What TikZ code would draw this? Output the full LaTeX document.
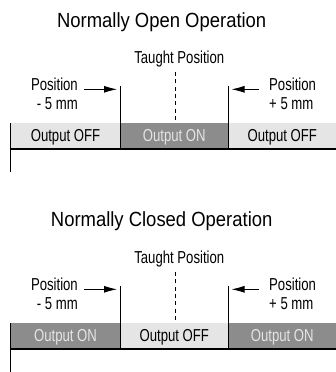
\documentclass[tikz,border=0pt]{standalone}
\usepackage{fontspec}
\setmainfont{Liberation Sans}
\newfontfamily\narrowfont[FakeStretch=0.76]{Liberation Sans}
\newfontfamily\titlefont[FakeStretch=0.9]{Liberation Sans}
\usetikzlibrary{arrows.meta}
\definecolor{barlight}{gray}{0.90}
\definecolor{bardark}{gray}{0.55}
\definecolor{ontext}{gray}{0.90}
\begin{document}
\begin{tikzpicture}[x=1pt,y=-1pt,
  titletext/.style={font=\titlefont\fontsize{20.5}{22}\selectfont, anchor=base, inner sep=0pt},
  lbl/.style={font=\narrowfont\fontsize{17.3}{19}\selectfont, inner sep=0pt},
  thinline/.style={line width=0.9pt, draw=black},
  baseline/.style={line width=1.3pt, draw=black},
  taughtline/.style={line width=0.9pt, dash pattern=on 4pt off 3.3pt},
  arr/.style={line width=0.9pt, -{Latex[length=13pt,width=7pt]}}
]
\useasboundingbox (0,0) rectangle (336,372);

% ---------- Normally Open ----------
\begin{scope}
\node[titletext] (t1) at (161.7,27.5) {Normally Open Operation};
\node[lbl, anchor=base] (tp1) at (179.3,63) {Taught Position};
\fill[barlight] (11,123) rectangle (120,149);
\fill[bardark] (120,123) rectangle (228.5,149);
\fill[barlight] (228.5,123) rectangle (336,149);
\node[lbl, anchor=base] (o1a) at (65.5,141.5) {Output OFF};
\node[lbl, anchor=base, text=ontext] (o1b) at (174.3,141.5) {Output ON};
\node[lbl, anchor=base] (o1c) at (282.3,141.5) {Output OFF};
\node[lbl, anchor=base east] (pl1) at (78,90.7) {Position};
\node[lbl, anchor=base east] (ml1) at (78,109) {- 5 mm};
\node[lbl, anchor=base west] (pr1) at (269,90.7) {Position};
\node[lbl, anchor=base west] (mr1) at (269,109) {+ 5 mm};
\coordinate (d1t) at (175,72) ; \coordinate (d1b) at (175,123);
\coordinate (l1t) at (120,86); \coordinate (l1b) at (120,149);
\coordinate (r1t) at (228.5,86); \coordinate (r1b) at (228.5,149);
\coordinate (a1s) at (84,89.3); \coordinate (a1e) at (117,89.3);
\coordinate (b1s) at (259,89.3); \coordinate (b1e) at (231.5,89.3);
\coordinate (x1t) at (10.7,123); \coordinate (x1b) at (10.7,172);
\coordinate (h1l) at (10.7,149); \coordinate (h1r) at (336,149);
\draw[taughtline] (d1t) -- (d1b);
\draw[thinline] (l1t) -- (l1b);
\draw[thinline] (r1t) -- (r1b);
\draw[arr] (a1s) -- (a1e);
\draw[arr] (b1s) -- (b1e);
\draw[thinline] (x1t) -- (x1b);
\draw[baseline] (h1l) -- (h1r);
\end{scope}

% ---------- Normally Closed ----------
\begin{scope}[shift={(0,200)}]
\node[titletext] (t2) at (161.7,26) {Normally Closed Operation};
\node[lbl, anchor=base] (tp2) at (179.3,63) {Taught Position};
\fill[bardark] (11,123) rectangle (120,149);
\fill[barlight] (120,123) rectangle (228.5,149);
\fill[bardark] (228.5,123) rectangle (336,149);
\node[lbl, anchor=base, text=ontext] (o2a) at (65.5,141.5) {Output ON};
\node[lbl, anchor=base] (o2b) at (174.3,141.5) {Output OFF};
\node[lbl, anchor=base, text=ontext] (o2c) at (282.3,141.5) {Output ON};
\node[lbl, anchor=base east] (pl2) at (78,90.7) {Position};
\node[lbl, anchor=base east] (ml2) at (78,109) {- 5 mm};
\node[lbl, anchor=base west] (pr2) at (269,90.7) {Position};
\node[lbl, anchor=base west] (mr2) at (269,109) {+ 5 mm};
\coordinate (d2t) at (175,72); \coordinate (d2b) at (175,123);
\coordinate (l2t) at (120,86); \coordinate (l2b) at (120,149);
\coordinate (r2t) at (228.5,86); \coordinate (r2b) at (228.5,149);
\coordinate (a2s) at (84,89.3); \coordinate (a2e) at (117,89.3);
\coordinate (b2s) at (259,89.3); \coordinate (b2e) at (231.5,89.3);
\coordinate (x2t) at (10.7,123); \coordinate (x2b) at (10.7,172);
\coordinate (h2l) at (10.7,149); \coordinate (h2r) at (336,149);
\draw[taughtline] (d2t) -- (d2b);
\draw[thinline] (l2t) -- (l2b);
\draw[thinline] (r2t) -- (r2b);
\draw[arr] (a2s) -- (a2e);
\draw[arr] (b2s) -- (b2e);
\draw[thinline] (x2t) -- (x2b);
\draw[baseline] (h2l) -- (h2r);
\end{scope}
\end{tikzpicture}
\end{document}
